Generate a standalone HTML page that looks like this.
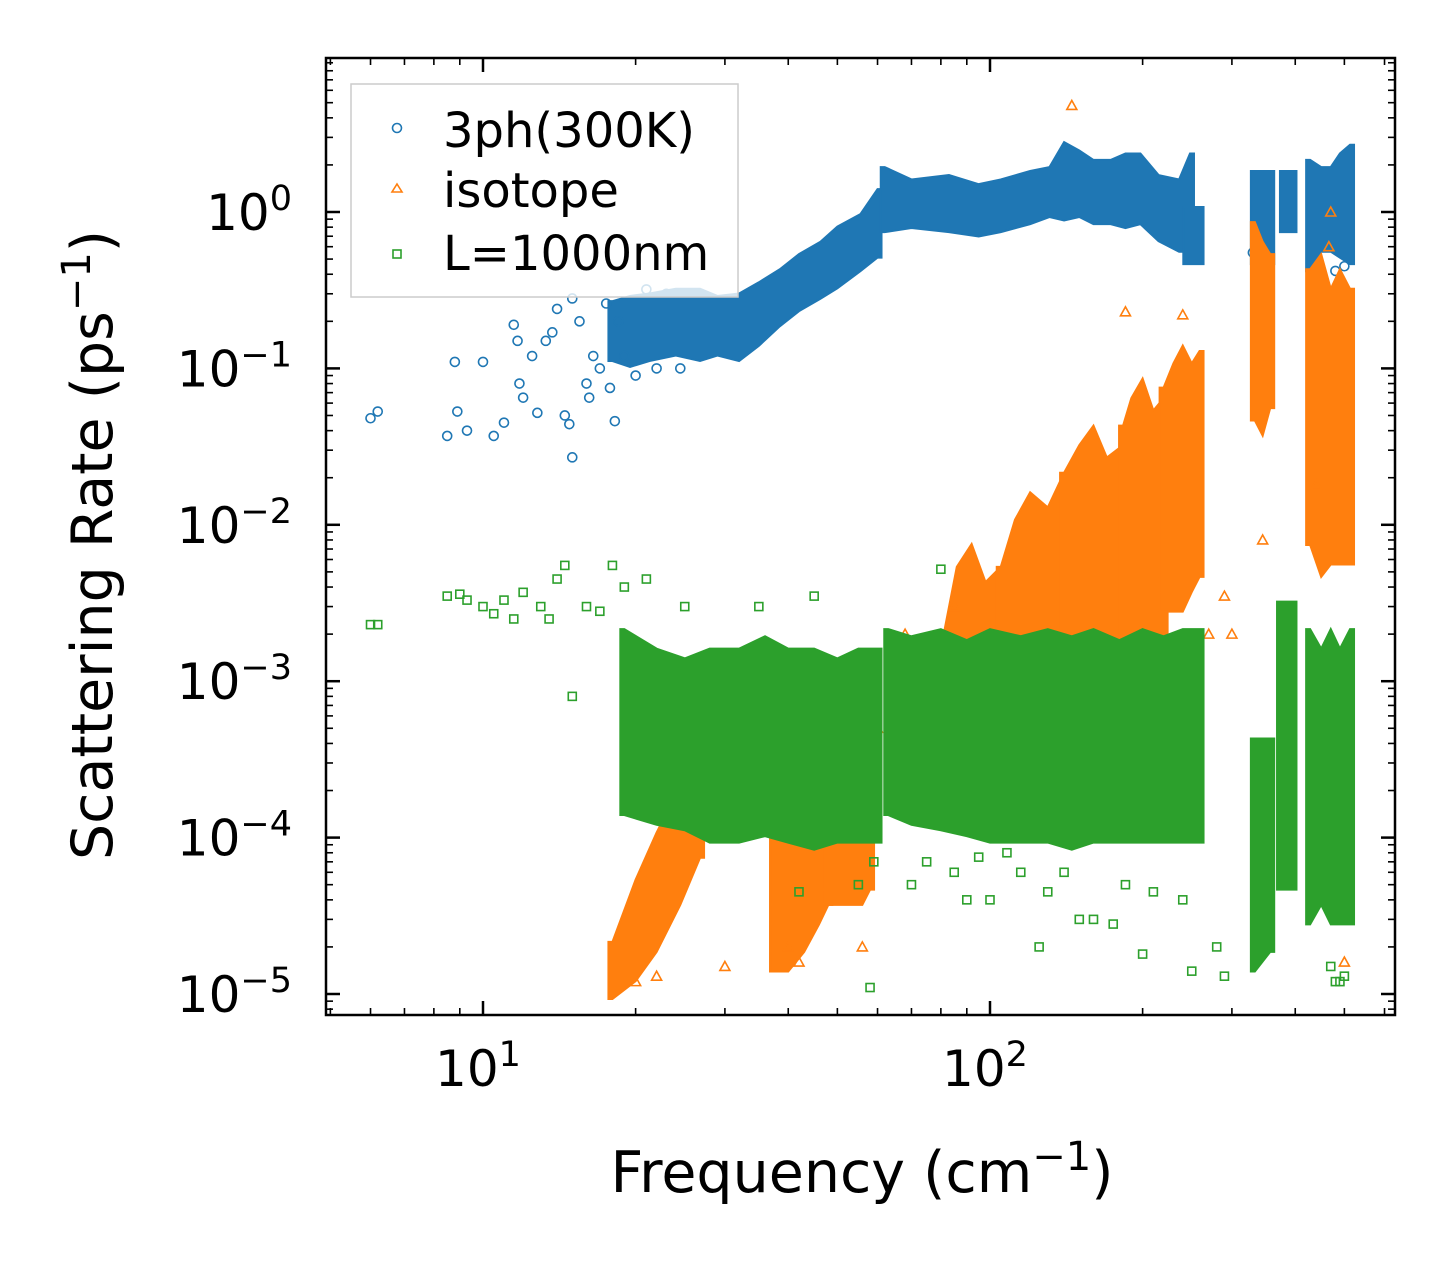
<!DOCTYPE html>
<html><head><meta charset="utf-8"><style>
body{margin:0;background:#fff}
svg{display:block;font-family:"DejaVu Sans","Liberation Sans",sans-serif}
</style></head><body>
<svg id="chart" width="1455" height="1265" viewBox="0 0 1455 1265">
<rect x="0" y="0" width="1455" height="1265" fill="#fff"/>
<g id="marks"></g>
<g id="axes"></g>
<text x="862" y="1192" font-size="57" text-anchor="middle">Frequency (cm<tspan dy="-22" font-size="40">−1</tspan><tspan dy="22">)</tspan></text>
<text transform="translate(112,545) rotate(-90)" font-size="57" text-anchor="middle">Scattering Rate (ps<tspan dy="-22" font-size="40">−1</tspan><tspan dy="22">)</tspan></text>
<g>
<rect x="351" y="84" width="387" height="213" fill="#fff" fill-opacity="0.8" stroke="#ccc" stroke-width="1.5"/>
<circle cx="397" cy="128" r="4.5" fill="none" stroke="#1f77b4" stroke-width="1.6"/>
<text x="443" y="147" font-size="48">3ph(300K)</text>
<polygon points="397,184 402,192 392,192" fill="none" stroke="#ff7f0e" stroke-width="1.6"/>
<text x="443" y="207" font-size="48">isotope</text>
<rect x="393" y="250" width="8" height="8" fill="none" stroke="#2ca02c" stroke-width="1.6"/>
<text x="443" y="270" font-size="48">L=1000nm</text>
</g>
</svg>
<script>
// Dense band envelopes: [freq, low, high]
const blueBandF=[[18,19.5,21.3,24,26.8,29,32,35,38.5,42,46.3,50,55.5,60],[62,70,83,95,105,120,131,140,150,160,173,185,198,215,236,248],[245,259],[333,357],[380,395],[428,450,470,490,513]];
const blueBandLo=[[0.12,0.11,0.12,0.13,0.12,0.13,0.12,0.15,0.2,0.25,0.3,0.35,0.45,0.55],[0.8,0.85,0.8,0.75,0.8,0.9,1.0,0.95,1.0,0.9,0.9,0.85,0.9,0.7,0.6,0.6],[0.5,0.5],[0.5,0.5],[0.8,0.8],[0.45,0.6,0.6,0.55,0.5]];
const blueBandHi=[[0.25,0.27,0.28,0.3,0.3,0.27,0.28,0.33,0.4,0.5,0.6,0.75,0.9,1.3],[1.8,1.5,1.6,1.4,1.5,1.7,1.8,2.6,2.3,2.0,2.0,2.2,2.2,1.6,1.5,2.2],[1.0,1.0],[1.7,1.7],[1.7,1.7],[2.0,1.8,1.8,2.2,2.5]];
const orangeBandF=[[18,20,22,24.5,26.8],[37.5,40,43,46,48],[48,50,53,56,58],[64,72,80],[80,86,92,98,105],[105,112,120,130,140],[140,150,160,170,183],[183,190,200,210,220],[220,230,240,250,259],[333,345,357],[428,450,470,490,513]];
const orangeBandLo=[[1e-5,1.3e-5,2e-5,4e-5,8e-5],[1.5e-5,1.5e-5,2e-5,3e-5,4e-5],[4e-5,4e-5,4e-5,4e-5,5e-5],[3e-4,3e-4,4e-4],[1e-3,1e-3,1e-3,1e-3,1e-3],[1e-3,1e-3,1e-3,1e-3,1e-3],[1e-3,1e-3,1e-3,1e-3,1e-3],[2e-3,2e-3,2e-3,2e-3,2e-3],[3e-3,3e-3,3e-3,4e-3,5e-3],[0.05,0.04,0.06],[0.008,0.005,0.006,0.006,0.006]];
const orangeBandHi=[[2e-5,5e-5,1e-4,2e-4,4e-4],[1e-4,1.5e-4,2e-4,1.5e-4,2e-4],[2e-4,2e-4,2e-4,1.5e-4,1.5e-4],[1e-3,1e-3,1.5e-3],[1.5e-3,5e-3,7e-3,4e-3,5e-3],[5e-3,1e-2,1.5e-2,1.2e-2,2e-2],[2e-2,3e-2,4e-2,2.5e-2,3e-2],[4e-2,6e-2,8e-2,5e-2,6e-2],[7e-2,1e-1,1.3e-1,1e-1,1.2e-1],[0.8,0.6,0.5],[0.4,0.5,0.3,0.4,0.3]];
const greenBandF=[[19,22,25,28,32,36,40,45,50,55,60],[63,70,80,90,100,115,130,145,160,180,200,220,240,259],[333,357],[375,395],[428,450,470,490,513]];
const greenBandLo=[[1.5e-4,1.3e-4,1.2e-4,1e-4,1e-4,1.1e-4,1e-4,9e-5,1e-4,1e-4,1e-4],[1.5e-4,1.3e-4,1.2e-4,1.1e-4,1e-4,1e-4,1e-4,9e-5,1e-4,1e-4,1e-4,1e-4,1e-4,1e-4],[1.5e-5,2e-5],[5e-5,5e-5],[3e-5,4e-5,3e-5,3e-5,3e-5]];
const greenBandHi=[[2e-3,1.5e-3,1.3e-3,1.5e-3,1.5e-3,1.8e-3,1.5e-3,1.5e-3,1.3e-3,1.5e-3,1.5e-3],[2e-3,1.8e-3,2e-3,1.7e-3,2e-3,1.8e-3,2e-3,1.8e-3,2e-3,1.7e-3,2e-3,1.8e-3,2e-3,2e-3],[4e-4,4e-4],[3e-3,3e-3],[2e-3,1.5e-3,2e-3,1.5e-3,2e-3]];
// Sparse scatter points
const blueF=[6,6.2,8.5,8.8,8.9,9.3,10,10.5,11,11.5,11.7,11.8,12,12.5,12.8,13.3,13.7,14,14.5,14.8,15,15,15.5,16,16.2,16.5,17,17.5,17.8,18.2,18.5,19,20,21,22,23,24,24.5,480,500,330];
const blueV=[0.048,0.053,0.037,0.11,0.053,0.04,0.11,0.037,0.045,0.19,0.15,0.08,0.065,0.12,0.052,0.15,0.17,0.24,0.05,0.044,0.027,0.28,0.2,0.08,0.065,0.12,0.1,0.26,0.075,0.046,0.2,0.12,0.09,0.32,0.1,0.3,0.3,0.1,0.42,0.45,0.55];
const orangeF=[145,185,240,20,22,30,40,42,56,470,466,440,345,300,290,270,250,210,95,85,68,60,455,500];
const orangeV=[4.8,0.23,0.22,1.2e-5,1.3e-5,1.5e-5,2e-5,1.6e-5,2e-5,1.0,0.6,0.018,0.008,0.002,0.0035,0.002,0.0015,0.0013,0.0015,0.003,0.002,0.0005,0.00012,0.000016];
const greenF=[6,6.2,8.5,9,9.3,10,10.5,11,11.5,12,13,13.5,14,14.5,15,16,17,18,19,21,25,35,45,58,80,100,200,250,290,42,55,59,70,90,115,130,150,160,175,280,480,490,500,470,125,108,85,75,95,140,185,210,240];
const greenV=[0.0023,0.0023,0.0035,0.0036,0.0033,0.003,0.0027,0.0033,0.0025,0.0037,0.003,0.0025,0.0045,0.0055,0.0008,0.003,0.0028,0.0055,0.004,0.0045,0.003,0.003,0.0035,0.000011,0.0052,0.00004,0.000018,0.000014,0.000013,0.000045,0.00005,0.00007,0.00005,0.00004,0.00006,0.000045,0.00003,0.00003,0.000028,0.00002,0.000012,0.000012,0.000013,0.000015,0.00002,0.00008,0.00006,0.00007,0.000075,0.00006,0.00005,0.000045,0.00004];
const xTickVals=[10,100];
const xTickLabels=["1","2"];
const yTickExps=[0,-1,-2,-3,-4,-5];

const L=326,R=1395,T=58,B=1015;
function xs(f){return 483+507*(Math.log10(f)-1);}
function ys(v){return 212-156.4*Math.log10(v);}
const NS="http://www.w3.org/2000/svg";
const marks=document.getElementById('marks');
const axes=document.getElementById('axes');
function mk(tag,attrs,parent){const e=document.createElementNS(NS,tag);for(const k in attrs)e.setAttribute(k,attrs[k]);parent.appendChild(e);return e;}
const cp=mk('clipPath',{id:'clip'},marks);mk('rect',{x:L,y:T,width:R-L,height:B-T},cp);
const gm=mk('g',{'clip-path':'url(#clip)'},marks);
function band(F,Lo,Hi,color,name){
  for(let i=0;i<F.length;i++){
    const n=F[i].length,pts=[];
    pts.push((xs(F[i][0])-4)+','+(ys(Hi[i][0])-5));
    for(let j=0;j<n;j++)pts.push(xs(F[i][j])+','+(ys(Hi[i][j])-5));
    pts.push((xs(F[i][n-1])+4)+','+(ys(Hi[i][n-1])-5));
    pts.push((xs(F[i][n-1])+4)+','+(ys(Lo[i][n-1])+5));
    for(let j=n-1;j>=0;j--)pts.push(xs(F[i][j])+','+(ys(Lo[i][j])+5));
    pts.push((xs(F[i][0])-4)+','+(ys(Lo[i][0])+5));
    const p=mk('polygon',{points:pts.join(' '),fill:color,stroke:color,'stroke-width':2},gm);
    
    
  }
}
function scatter(F,V,color,shape,name){
  for(let i=0;i<F.length;i++){
    const x=xs(F[i]),y=ys(V[i]);let e;
    if(shape==='c')e=mk('circle',{cx:x,cy:y,r:4.5,fill:'none',stroke:color,'stroke-width':1.6},gm);
    else if(shape==='t')e=mk('polygon',{points:`${x},${y-5} ${x+5},${y+4} ${x-5},${y+4}`,fill:'none',stroke:color,'stroke-width':1.6},gm);
    else e=mk('rect',{x:x-4,y:y-4,width:8,height:8,fill:'none',stroke:color,'stroke-width':1.6},gm);
    
    
  }
}
band(blueBandF,blueBandLo,blueBandHi,'#1f77b4','3ph-band');
scatter(blueF,blueV,'#1f77b4','c','3ph-point');
band(orangeBandF,orangeBandLo,orangeBandHi,'#ff7f0e','isotope-band');
scatter(orangeF,orangeV,'#ff7f0e','t','isotope-point');
band(greenBandF,greenBandLo,greenBandHi,'#2ca02c','boundary-band');
scatter(greenF,greenV,'#2ca02c','s','boundary-point');

const fr=mk('rect',{x:L,y:T,width:R-L,height:B-T,fill:'none',stroke:'#000','stroke-width':2.5},axes);


function line(x1,y1,x2,y2,w){mk('line',{x1,y1,x2,y2,stroke:'#000','stroke-width':w},axes);}
for(let d=0;d<=2;d++){for(let m=1;m<=9;m++){
  const f=m*Math.pow(10,d);const x=xs(f);if(x<L||x>R)continue;
  const len=m===1?14:7,w=m===1?2.5:1.6;
  line(x,B,x,B-len,w);line(x,T,x,T+len,w);
}}
xTickVals.forEach((v,i)=>{
  const t=mk('text',{x:xs(v)-5,y:1086,'font-size':50,'text-anchor':'middle'},axes);
  t.innerHTML='10<tspan dy="-20" font-size="35">'+xTickLabels[i]+'</tspan>';
  
  
});
for(let d=-6;d<=0;d++){for(let m=1;m<=9;m++){
  const v=m*Math.pow(10,d);const y=ys(v);if(y<T||y>B)continue;
  const len=m===1?14:7,w=m===1?2.5:1.6;
  line(L,y,L+len,y,w);line(R,y,R-len,y,w);
}}
yTickExps.forEach(e=>{
  const t=mk('text',{x:292,y:ys(Math.pow(10,e))+18,'font-size':50,'text-anchor':'end'},axes);
  t.innerHTML='10<tspan dy="-20" font-size="35">'+(e<0?'−'+(-e):e)+'</tspan>';
  
  
});
</script>
</body></html>
